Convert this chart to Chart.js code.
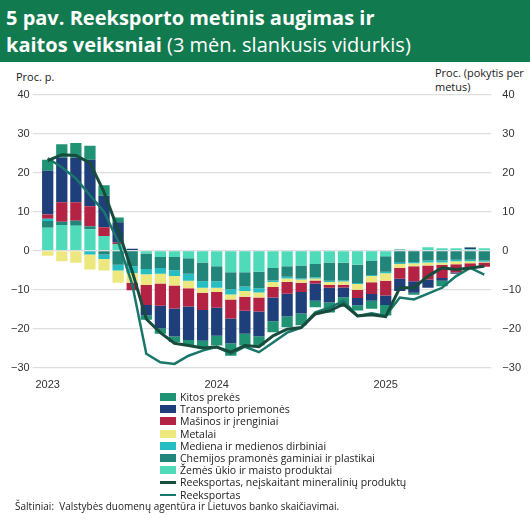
<!DOCTYPE html>
<html>
<head>
<meta charset="utf-8">
<script src="https://cdn.jsdelivr.net/npm/chart.js@4"></script>
<style>
  body { margin: 0; width: 530px; height: 523px; background: #fff; font-family: "Open Sans", "Liberation Sans", sans-serif; position: relative; overflow: hidden; }
  #title { position: absolute; left: 0; top: 0; width: 530px; height: 62px; background: #117a4f; color: #fff; font-size: 20px; line-height: 27px; padding: 4px 0 0 6px; box-sizing: border-box; }
  #title b { font-weight: 700; }
  .axt { position: absolute; font-size: 11px; color: #222; line-height: 14px; }
  #wrap { position: absolute; left: 0; top: 85px; width: 530px; height: 310px; }
  #legend { position: absolute; left: 160px; top: 391px; font-size: 10.5px; color: #222; }
  #legend div { height: 12.2px; line-height: 12.2px; display: flex; align-items: center; }
  #legend span.sw { display: inline-block; width: 16px; height: 8px; margin-right: 4px; }
  #legend span.ln { display: inline-block; width: 16px; margin-right: 4px; }
  #src { position: absolute; left: 15px; top: 499px; font-size: 10px; color: #222; }
</style>
</head>
<body>
<div id="title"><b>5 pav. Reeksporto metinis augimas ir<br>kaitos veiksniai</b> (3 mėn. slankusis vidurkis)</div>
<div class="axt" style="left:16px;top:70px;">Proc. p.</div>
<div class="axt" style="left:435px;top:66px;">Proc. (pokytis per<br>metus)</div>
<div id="wrap"><canvas id="chart"></canvas></div>
<div id="legend"></div>
<div id="src">Šaltiniai:&nbsp; Valstybės duomenų agentūra ir Lietuvos banko skaičiavimai.</div>
<script>
const labels = ["2023","","","","","","","","","","","","2024","","","","","","","","","","","","2025","","","","","","",""];
const yTicks = [-30, -20, -10, 0, 10, 20, 30, 40];

const zemesUkio = [5.9,6.6,6.4,5.5,3.8,1.7,0,-0.7,-1.6,-1.6,-1.9,-3.0,-4.0,-5.5,-5.5,-5.4,-4.4,-4.0,-3.8,-3.4,-3.0,-3.1,-3.6,-2.5,-1.4,0,0.2,0.9,0.6,0.6,0.4,0.6];
const chemijos = [1.7,0.8,1.3,0.8,-1.0,-3.6,-4.0,-4.0,-2.8,-3.4,-4.0,-4.8,-3.8,-4.4,-3.7,-4.2,-3.2,-2.7,-3.3,-3.4,-4.7,-4.5,-4.7,-3.7,-4.0,-3.1,-2.9,-2.5,-2.5,-2.3,-2.3,-2.5];
const mediena = [0.6,0,0,-1.0,-1.1,-1.5,-1.7,-1.3,-1.5,-1.5,-1.8,-1.7,-1.7,-1.3,-1.1,-1.1,-0.4,-0.4,-0.3,-0.3,-0.3,-0.3,-0.2,-0.3,-0.4,-0.3,-0.3,-0.5,-0.5,-0.4,-0.4,-0.3];
const metalai = [-1.3,-2.7,-3.1,-3.8,-3.0,-3.1,-2.5,-2.8,-2.5,-2.4,-1.9,-1.3,-1.1,-1.3,-1.5,-1.3,-1.3,-0.9,-0.8,-0.5,-0.8,-0.8,-1.5,-1.6,-1.9,-1.0,-0.8,-0.8,-0.6,-0.8,-0.5,-0.2];
const masinos = [1.1,5.0,4.7,5.1,2.2,0.5,-1.9,-5.1,-5.7,-5.9,-4.7,-4.4,-4.0,-4.9,-3.6,-3.6,-2.7,-3.0,-2.4,-0.8,-0.7,-0.7,-2.1,-3.0,-3.8,-2.8,-3.8,-3.6,-3.4,-2.1,-1.3,-1.1];
const transportas = [11.2,11.5,11.4,11.9,8.1,5.1,0.5,-2.7,-5.8,-7.2,-8.6,-7.9,-7.2,-6.3,-5.9,-6.3,-6.1,-5.8,-5.5,-4.4,-3.8,-2.5,-1.9,-1.7,-2.4,-3.1,-3.0,-2.1,-0.7,-0.3,0.4,0];
const kitos = [2.8,3.4,3.8,3.6,2.7,1.2,0,-1.1,-1.4,-1.4,-1.5,-1.9,-2.5,-3.2,-3.0,-2.4,-2.8,-2.8,-3.0,-1.7,-2.5,-2.5,-1.3,-2.1,-2.7,0.3,-0.5,0,-1.4,0,0.1,0];
const reeksportasBeMin = [23.1,24.6,24.4,22.5,15.0,5.3,-5.3,-17.5,-21.0,-23.7,-24.3,-24.9,-24.7,-26.0,-24.3,-24.6,-21.8,-20.1,-19.7,-16.2,-15.4,-13.7,-16.7,-16.4,-16.9,-9.5,-9.5,-6.5,-4.4,-4.8,-4.4,-4.0];
const reeksportas = [23.7,21.4,18.5,14.2,10.0,2.4,-8.6,-26.4,-28.6,-29.0,-26.9,-25.6,-24.6,-26.4,-24.6,-26.0,-23.5,-21.0,-19.7,-15.8,-14.6,-12.9,-16.7,-16.0,-16.7,-12.0,-12.5,-11.0,-9.5,-6.5,-4.4,-6.1];

const barSeries = [
    { label: "Žemės ūkio ir maisto produktai", data: zemesUkio, color: "#4fdbb9" },
    { label: "Chemijos pramonės gaminiai ir plastikai", data: chemijos, color: "#22857a" },
    { label: "Mediena ir medienos dirbiniai", data: mediena, color: "#26bec2" },
    { label: "Metalai", data: metalai, color: "#ece87f" },
    { label: "Mašinos ir įrenginiai", data: masinos, color: "#b42343" },
    { label: "Transporto priemonės", data: transportas, color: "#1f3f7a" },
    { label: "Kitos prekės", data: kitos, color: "#1f9373" }
];
const lineSeries = [
    { label: "Reeksportas, neįskaitant mineralinių produktų", data: reeksportasBeMin, color: "#174c3d", width: 3 },
    { label: "Reeksportas", data: reeksportas, color: "#18776a", width: 2.5 }
];

const datasets = [];
lineSeries.forEach((s) => {
    datasets.push({ type: "line", label: s.label, data: s.data, borderColor: s.color, borderWidth: s.width, pointRadius: 0, tension: 0, yAxisID: "y2", order: 0 });
});
barSeries.forEach((s) => {
    datasets.push({ type: "bar", label: s.label, data: s.data, backgroundColor: s.color, stack: "s", barPercentage: 0.8, categoryPercentage: 1, order: 1 });
});

const axisCommon = {
    min: -30, max: 40,
    afterBuildTicks: (axis) => { axis.ticks = yTicks.map((v) => ({ value: v })); },
    ticks: { color: "#333", font: { size: 11 }, callback: (v) => (v < 0 ? "−" + Math.abs(v) : v) },
    border: { display: false }
};

new Chart(document.getElementById("chart"), {
    data: { labels, datasets },
    options: {
        responsive: true,
        maintainAspectRatio: false,
        animation: false,
        layout: { padding: { left: 8, right: 6, top: 6, bottom: 0 } },
        plugins: { legend: { display: false }, tooltip: { enabled: false } },
        scales: {
            x: {
                stacked: true,
                grid: { display: false },
                border: { display: false },
                ticks: { color: "#333", font: { size: 11 }, autoSkip: false, maxRotation: 0 }
            },
            y: Object.assign({}, axisCommon, { stacked: true, position: "left", grid: { color: "#dedede", lineWidth: 1.2 } }),
            y2: Object.assign({}, axisCommon, { position: "right", grid: { display: false } })
        }
    }
});

const legend = document.getElementById("legend");
barSeries.slice().reverse().forEach((s) => {
    legend.innerHTML += `<div><span class="sw" style="background:${s.color}"></span>${s.label}</div>`;
});
lineSeries.forEach((s) => {
    legend.innerHTML += `<div><span class="ln" style="border-top:${s.width}px solid ${s.color}"></span>${s.label}</div>`;
});
</script>
</body>
</html>
